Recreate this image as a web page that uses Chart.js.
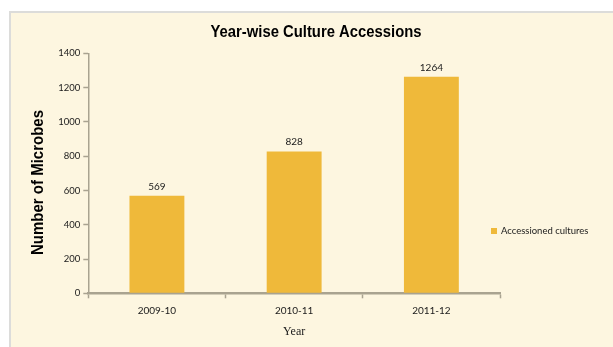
<!DOCTYPE html>
<html>
<head>
<meta charset="utf-8">
<script src="https://cdn.jsdelivr.net/npm/chart.js@4/dist/chart.umd.min.js"></script>
<style>
  html, body { margin: 0; padding: 0; background: #ffffff; }
  #wrap { position: absolute; left: 0; top: 0; width: 613px; height: 347px; }
</style>
</head>
<body>
<div id="wrap"><canvas id="c" width="613" height="347"></canvas></div>
<script>
const chartTitle = "Year-wise Culture Accessions";
const categories = ["2009-10", "2010-11", "2011-12"];
const seriesName = "Accessioned cultures";
const seriesValues = [569, 828, 1264];
const yTicks = [0, 200, 400, 600, 800, 1000, 1200, 1400];
const xAxisTitle = "Year";
const yAxisTitle = "Number of Microbes";

const BAR = "#EFB93A";
const AXIS = "#A9A390";
const TEXT = "#1a1a1a";
const TICKFONT = "Lato, 'Open Sans', sans-serif";

const panelPlugin = {
  id: "panel",
  beforeDraw(chart) {
    const ctx = chart.ctx;
    ctx.save();
    ctx.fillStyle = "#ffffff";
    ctx.fillRect(0, 0, chart.width, chart.height);
    ctx.fillStyle = "#FDF6E0";
    ctx.fillRect(10, 12, chart.width - 10, chart.height - 12);
    ctx.fillStyle = "#DCDCDA";
    ctx.fillRect(10, 11, chart.width - 10, 2);
    ctx.fillRect(9, 11, 2, chart.height - 11);
    ctx.restore();
  }
};

function fitText(ctx, text, x, y, target, rot) {
  ctx.save();
  const w = ctx.measureText(text).width;
  ctx.translate(x, y);
  if (rot) ctx.rotate(rot);
  ctx.scale(Math.min(1, target / w), 1);
  ctx.fillText(text, 0, 0);
  ctx.restore();
}

const decorPlugin = {
  id: "decor",
  afterDraw(chart) {
    const ctx = chart.ctx;
    ctx.save();
    ctx.fillStyle = "#000000";
    ctx.textAlign = "center";
    ctx.textBaseline = "middle";
    // chart title
    ctx.font = "bold 17px 'Liberation Sans', Arial, sans-serif";
    fitText(ctx, chartTitle, 316, 32.5, 211, 0);
    // y axis title
    ctx.font = "bold 17px 'Liberation Sans', Arial, sans-serif";
    fitText(ctx, yAxisTitle, 38, 182.5, 145, -Math.PI / 2);
    ctx.restore();

    // value labels
    ctx.save();
    ctx.fillStyle = TEXT;
    ctx.font = "10px " + TICKFONT;
    ctx.textAlign = "center";
    ctx.textBaseline = "alphabetic";
    const meta = chart.getDatasetMeta(0);
    meta.data.forEach((el, i) => {
      ctx.fillText(String(chart.data.datasets[0].data[i]), el.x, el.y - 6);
    });
    ctx.restore();

    // legend
    ctx.save();
    ctx.fillStyle = chart.data.datasets[0].backgroundColor;
    ctx.fillRect(491, 228, 6, 6);
    ctx.fillStyle = TEXT;
    ctx.font = "9.5px " + TICKFONT;
    ctx.textAlign = "left";
    ctx.textBaseline = "middle";
    ctx.fillText(chart.data.datasets[0].label, 501, 231);
    ctx.restore();
  }
};

new Chart(document.getElementById("c"), {
  type: "bar",
  data: {
    labels: categories,
    datasets: [{
      label: seriesName,
      data: seriesValues,
      backgroundColor: BAR,
      borderWidth: 0,
      barPercentage: 0.40,
      categoryPercentage: 1.0
    }]
  },
  plugins: [panelPlugin, decorPlugin],
  options: {
    responsive: false,
    animation: false,
    devicePixelRatio: 1,
    layout: { padding: { left: 0, right: 113, top: 53.4, bottom: 0 } },
    plugins: {
      legend: { display: false },
      title: { display: false },
      tooltip: { enabled: false }
    },
    scales: {
      x: {
        grid: { display: true, drawOnChartArea: false, color: AXIS, tickLength: 5, tickWidth: 1.5, offset: true },
        border: { display: true, color: AXIS, width: 2.5 },
        ticks: { color: TEXT, font: { family: TICKFONT, size: 10 }, padding: 6, maxRotation: 0 },
        title: { display: true, text: xAxisTitle, color: TEXT, font: { family: "'Liberation Serif', 'Times New Roman', serif", size: 12 }, padding: { top: 0, bottom: 8 } },
        afterFit(scale) { scale.height = 53.7; }
      },
      y: {
        min: 0, max: 1400,
        afterBuildTicks(scale) { scale.ticks = yTicks.map(v => ({ value: v })); },
        grid: { display: true, drawOnChartArea: false, color: AXIS, tickLength: 5, tickWidth: 1.5 },
        border: { display: true, color: AXIS, width: 1.5 },
        ticks: { color: TEXT, font: { family: TICKFONT, size: 9.5 }, padding: 3, callback: (v) => String(v) },
        title: { display: false },
        afterFit(scale) { scale.width = 88.3; }
      }
    }
  }
});
</script>
</body>
</html>
